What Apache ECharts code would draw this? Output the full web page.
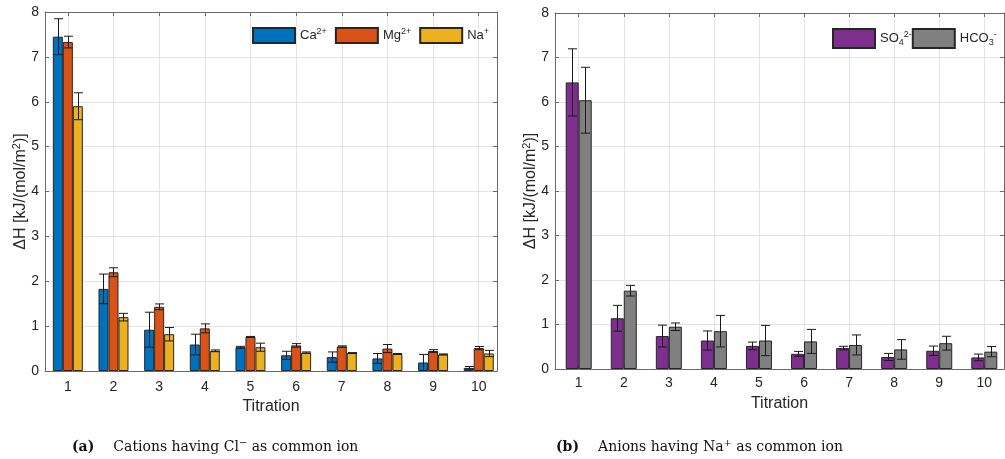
<!DOCTYPE html>
<html>
<head>
<meta charset="utf-8">
<script src="https://cdn.jsdelivr.net/npm/echarts@6/dist/echarts.min.js"></script>
<style>
html,body{margin:0;padding:0;background:#fff;}
#chart{width:1005px;height:459px;}
</style>
</head>
<body>
<div id="chart"></div>
<script>
// ---- data ----
const titration = [1, 2, 3, 4, 5, 6, 7, 8, 9, 10];
const yTicks = [0, 1, 2, 3, 4, 5, 6, 7, 8];

const ca    = [7.45, 1.83, 0.92, 0.59, 0.53, 0.35, 0.31, 0.28, 0.19, 0.07];
const caErr = [0.40, 0.33, 0.39, 0.23, 0.02, 0.09, 0.115, 0.11, 0.18, 0.03];
const mg    = [7.33, 2.20, 1.43, 0.95, 0.76, 0.57, 0.545, 0.50, 0.445, 0.51];
const mgErr = [0.13, 0.10, 0.065, 0.10, 0.01, 0.04, 0.015, 0.09, 0.03, 0.035];
const na    = [5.90, 1.20, 0.82, 0.45, 0.53, 0.41, 0.40, 0.38, 0.37, 0.39];
const naErr = [0.30, 0.085, 0.15, 0.02, 0.09, 0.015, 0.01, 0.01, 0.01, 0.07];

const so4    = [6.44, 1.14, 0.74, 0.64, 0.52, 0.34, 0.47, 0.27, 0.41, 0.26];
const so4Err = [0.755, 0.29, 0.245, 0.215, 0.085, 0.055, 0.04, 0.08, 0.105, 0.075];
const hco3    = [6.04, 1.76, 0.95, 0.85, 0.64, 0.62, 0.54, 0.44, 0.58, 0.39];
const hco3Err = [0.74, 0.12, 0.085, 0.355, 0.34, 0.27, 0.225, 0.22, 0.155, 0.115];

const leftNames = ['Ca2+', 'Mg2+', 'Na+'];
const rightNames = ['SO42-', 'HCO3-'];

// ---- styling ----
const FONT = 'Liberation Sans';
const SERIF = 'DejaVu Serif';
const AXIS_C = '#6a6a6a';
const TXT_C = '#262626';
const GRID_C = '#e3e3e3';
const EDGE_C = '#262626';

const colors = {
  'Ca2+': '#0072BD', 'Mg2+': '#D95319', 'Na+': '#EDB120',
  'SO42-': '#7E2F8E', 'HCO3-': '#808080'
};
const legendRich = {
  'Ca2+': '{n|Ca}{sup|2+}',
  'Mg2+': '{n|Mg}{sup|2+}',
  'Na+': '{n|Na}{sup|+}',
  'SO42-': '{n|SO}{sub|4}{sup|2-}',
  'HCO3-': '{n|HCO}{sub|3}{sup|-}'
};
const richLegend = {
  n: {fontFamily: FONT, fontSize: 13, color: TXT_C},
  sup: {fontFamily: FONT, fontSize: 9, color: TXT_C, padding: [0, 0, 8, 0]},
  sub: {fontFamily: FONT, fontSize: 9, color: TXT_C, padding: [8, 0, 0, 0]}
};

function xAxes(gridIndex, min, max, labelMargin, nameGap) {
  return [{
    gridIndex, type: 'value', position: 'bottom', min, max,
    axisLine: {show: true, onZero: false, lineStyle: {color: AXIS_C, width: 1}},
    axisTick: {show: true, inside: true, length: 4, customValues: titration, lineStyle: {color: AXIS_C}},
    axisLabel: {show: true, customValues: titration, margin: labelMargin, fontFamily: FONT, fontSize: 14, color: TXT_C},
    splitLine: {show: true, lineStyle: {color: GRID_C, width: 1}},
    name: 'Titration', nameLocation: 'middle', nameGap: nameGap,
    nameTextStyle: {fontFamily: FONT, fontSize: 16, color: TXT_C}
  }, {
    gridIndex, type: 'value', position: 'top', min, max,
    axisLine: {show: true, onZero: false, lineStyle: {color: AXIS_C, width: 1}},
    axisTick: {show: true, inside: true, length: 4, customValues: titration, lineStyle: {color: AXIS_C}},
    axisLabel: {show: false},
    splitLine: {show: false}
  }];
}
function yAxes(gridIndex, labelMargin, nameGap) {
  return [{
    gridIndex, type: 'value', position: 'left', min: 0, max: 8, interval: 1,
    axisLine: {show: true, onZero: false, lineStyle: {color: AXIS_C, width: 1}},
    axisTick: {show: true, inside: true, length: 4, lineStyle: {color: AXIS_C}},
    axisLabel: {show: true, margin: labelMargin, fontFamily: FONT, fontSize: 14, color: TXT_C},
    splitLine: {show: true, lineStyle: {color: GRID_C, width: 1}},
    name: '{d|ΔH [kJ/(mol/m}{s|2}{d|)]}', nameLocation: 'middle', nameGap: nameGap, nameRotate: 90,
    nameMoveOverlap: false,
    nameTextStyle: {
      fontFamily: FONT, fontSize: 16, color: TXT_C,
      rich: {
        d: {fontFamily: FONT, fontSize: 16, color: TXT_C},
        s: {fontFamily: FONT, fontSize: 11, color: TXT_C, padding: [0, 0, 9, 0]}
      }
    }
  }, {
    gridIndex, type: 'value', position: 'right', min: 0, max: 8, interval: 1,
    axisLine: {show: true, onZero: false, lineStyle: {color: AXIS_C, width: 1}},
    axisTick: {show: true, inside: true, length: 4, lineStyle: {color: AXIS_C}},
    axisLabel: {show: false},
    splitLine: {show: false}
  }];
}

function barSeries(name, values, axisIdx, barW) {
  return {
    name, type: 'bar', xAxisIndex: axisIdx, yAxisIndex: axisIdx,
    barWidth: barW, barGap: '0%',
    data: titration.map((t, i) => [t, values[i]]),
    itemStyle: {color: colors[name], borderColor: EDGE_C, borderWidth: 1},
    emphasis: {disabled: true},
    animation: false
  };
}
function errSeries(values, errs, axisIdx, idx, n, barW) {
  return {
    type: 'custom', xAxisIndex: axisIdx, yAxisIndex: axisIdx, silent: true, z: 10,
    data: titration.map((t, i) => [t, values[i] - errs[i], values[i] + errs[i]]),
    renderItem: function (params, api) {
      const x = api.value(0);
      const lo = api.coord([x, api.value(1)]);
      const hi = api.coord([x, api.value(2)]);
      const cx = Math.round(lo[0] + (idx - (n - 1) / 2) * barW) + 0.5;
      const hw = 4.5;
      const st = {stroke: '#1a1a1a', lineWidth: 1};
      return {
        type: 'group',
        children: [
          {type: 'line', shape: {x1: cx, y1: lo[1], x2: cx, y2: hi[1]}, style: st},
          {type: 'line', shape: {x1: cx - hw, y1: lo[1], x2: cx + hw, y2: lo[1]}, style: st},
          {type: 'line', shape: {x1: cx - hw, y1: hi[1], x2: cx + hw, y2: hi[1]}, style: st}
        ]
      };
    },
    animation: false
  };
}

const LW = 10, RW = 13;
const series = [
  barSeries('Ca2+', ca, 0, LW),
  barSeries('Mg2+', mg, 0, LW),
  barSeries('Na+', na, 0, LW),
  errSeries(ca, caErr, 0, 0, 3, LW),
  errSeries(mg, mgErr, 0, 1, 3, LW),
  errSeries(na, naErr, 0, 2, 3, LW),
  barSeries('SO42-', so4, 2, RW),
  barSeries('HCO3-', hco3, 2, RW),
  errSeries(so4, so4Err, 2, 0, 2, RW),
  errSeries(hco3, hco3Err, 2, 1, 2, RW)
];

const xa = [].concat(xAxes(0, 0.5, 10.4, 9, 28), xAxes(1, 0.474, 10.437, 7, 27));
const ya = [].concat(yAxes(0, 6, 14), yAxes(1, 6, 14));

const capRich = {
  b: {fontFamily: SERIF, fontSize: 14, fontWeight: 'bold', color: '#111', padding: [0, 19, 0, 0]},
  t: {fontFamily: SERIF, fontSize: 14, color: '#111'},
  sup: {fontFamily: SERIF, fontSize: 10, color: '#111', padding: [0, 0, 8, 0]}
};

const option = {
  animation: false,
  backgroundColor: '#fff',
  grid: [
    {left: 45, top: 12, width: 452, height: 359, outerBoundsMode: 'none', containLabel: false},
    {left: 555, top: 13, width: 449, height: 356, outerBoundsMode: 'none', containLabel: false}
  ],
  xAxis: xa,
  yAxis: ya,
  legend: [{
    data: leftNames, left: 252, top: 27, padding: 0, orient: 'horizontal',
    itemWidth: 42, itemHeight: 15, itemGap: 8, icon: 'rect',
    selectedMode: false,
    formatter: n => legendRich[n],
    textStyle: {fontFamily: FONT, fontSize: 13, color: TXT_C, rich: richLegend}
  }, {
    data: rightNames, left: 832, top: 28, padding: 0, orient: 'horizontal',
    itemWidth: 42, itemHeight: 19, itemGap: 0, icon: 'rect',
    selectedMode: false,
    formatter: n => legendRich[n],
    textStyle: {fontFamily: FONT, fontSize: 13, color: TXT_C, rich: richLegend}
  }],
  title: [{
    text: '{b|(a)}{t|Cations having Cl}{sup|−}{t| as common ion}',
    left: 72, top: 438, padding: 0,
    textStyle: {fontFamily: SERIF, fontSize: 14, fontWeight: 'normal', color: '#111', rich: capRich}
  }, {
    text: '{b|(b)}{t|Anions having Na}{sup|+}{t| as common ion}',
    left: 556, top: 438, padding: 0,
    textStyle: {fontFamily: SERIF, fontSize: 14, fontWeight: 'normal', color: '#111', rich: capRich}
  }],
  series: series
};

const chart = echarts.init(document.getElementById('chart'), null, {renderer: 'canvas'});
chart.setOption(option);
</script>
</body>
</html>
